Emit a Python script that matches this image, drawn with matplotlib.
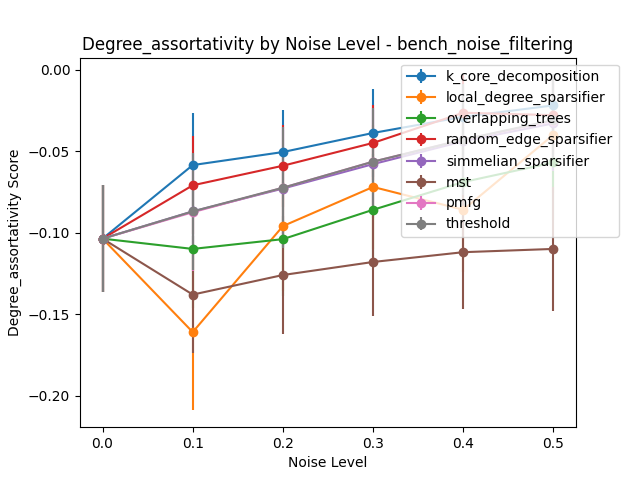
import matplotlib
matplotlib.use("Agg")
import matplotlib.pyplot as plt

noise_levels = [0.0, 0.1, 0.2, 0.3, 0.4, 0.5]

methods = [
    "k_core_decomposition",
    "local_degree_sparsifier",
    "overlapping_trees",
    "random_edge_sparsifier",
    "simmelian_sparsifier",
    "mst",
    "pmfg",
    "threshold",
]

means = {
    "k_core_decomposition":    [-0.1037, -0.0586, -0.0506, -0.0389, -0.0290, -0.0220],
    "local_degree_sparsifier": [-0.1037, -0.1610, -0.0960, -0.0720, -0.0860, -0.0400],
    "overlapping_trees":       [-0.1037, -0.1100, -0.1040, -0.0860, -0.0690, -0.0570],
    "random_edge_sparsifier":  [-0.1037, -0.0710, -0.0590, -0.0450, -0.0265, -0.0280],
    "simmelian_sparsifier":    [-0.1037, -0.0870, -0.0730, -0.0580, -0.0440, -0.0330],
    "mst":                     [-0.1037, -0.1380, -0.1260, -0.1180, -0.1120, -0.1100],
    "pmfg":                    [-0.1037, -0.0875, -0.0725, -0.0565, -0.0430, -0.0315],
    "threshold":               [-0.1037, -0.0870, -0.0725, -0.0565, -0.0430, -0.0310],
}

stds = {
    "k_core_decomposition":    [0.033, 0.032, 0.026, 0.027, 0.025, 0.019],
    "local_degree_sparsifier": [0.033, 0.048, 0.040, 0.038, 0.038, 0.036],
    "overlapping_trees":       [0.033, 0.036, 0.035, 0.034, 0.034, 0.035],
    "random_edge_sparsifier":  [0.033, 0.030, 0.025, 0.023, 0.023, 0.024],
    "simmelian_sparsifier":    [0.033, 0.036, 0.036, 0.033, 0.034, 0.029],
    "mst":                     [0.033, 0.036, 0.036, 0.033, 0.035, 0.038],
    "pmfg":                    [0.033, 0.036, 0.037, 0.033, 0.034, 0.028],
    "threshold":               [0.033, 0.036, 0.037, 0.033, 0.034, 0.028],
}

fig, ax = plt.subplots(figsize=(6.4, 4.8))
for name in methods:
    ax.errorbar(noise_levels, means[name], yerr=stds[name], marker="o", label=name)

ax.set_xlabel("Noise Level")
ax.set_ylabel("Degree_assortativity Score")
ax.set_title("Degree_assortativity by Noise Level - bench_noise_filtering")
ax.legend(loc="upper right", bbox_to_anchor=(1.1, 1))
plt.savefig("out.png", dpi=100)
